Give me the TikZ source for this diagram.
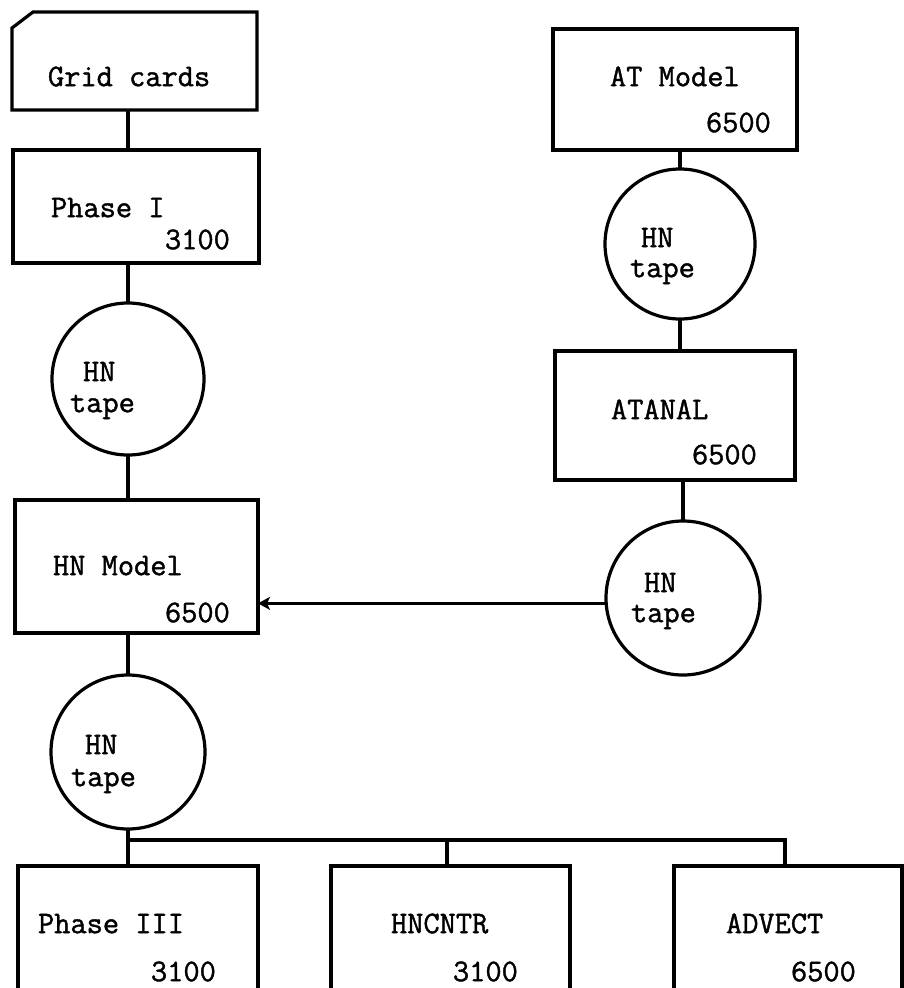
\documentclass[tikz,border=0pt]{standalone}
\usepackage{fontspec}
\setmonofont{Latin Modern Mono}[FakeBold=1.3]
\usetikzlibrary{arrows.meta}
\begin{document}
\begin{tikzpicture}[x=1pt,y=-1pt,
  every node/.style={inner sep=0pt, outer sep=0pt},
  ln/.style={line width=3.2pt},
  box/.style={draw, line width=3.2pt, rectangle},
  tape/.style={draw, line width=3.2pt, circle},
  txt/.style={anchor=mid west, font=\ttfamily\bfseries\fontsize{31.5}{34}\selectfont},
  arr/.style={ln, -{Stealth[length=12pt,width=13pt,inset=3pt]}}
]
\useasboundingbox (0,0) rectangle (904,988);
\clip (0,0) rectangle (904,988);
\fill[white] (0,0) rectangle (904,988);

% boxes
\node[minimum width=245pt, minimum height=98pt] (grid) at (134.5,61) {};
\draw[ln, line join=miter] ([yshift=-16pt]grid.north west) -- ([xshift=21pt]grid.north west) -- (grid.north east) -- (grid.south east) -- (grid.south west) -- cycle;
\node[box, minimum width=246pt, minimum height=113pt] (phase1) at (136,206.5) {};
\node[box, minimum width=243pt, minimum height=133pt] (hnmodel) at (136.5,566.5) {};
\node[box, minimum width=244pt, minimum height=121pt] (atmodel) at (675,89.5) {};
\node[box, minimum width=240pt, minimum height=129pt] (atanal) at (675,415.5) {};
\node[box, minimum width=240pt, minimum height=129pt] (phase3) at (138,930.5) {};
\node[box, minimum width=239pt, minimum height=129pt] (hncntr) at (450.5,930.5) {};
\node[box, minimum width=228pt, minimum height=129pt] (advect) at (788,930.5) {};

% tapes
\node[tape, minimum size=152pt] (tape1) at (128,379) {};
\node[tape, minimum size=154pt] (tape2) at (128,752) {};
\node[tape, minimum size=150pt] (tape3) at (680,244) {};
\node[tape, minimum size=154pt] (tape4) at (683,598) {};

% connectors
\draw[ln] (tape1.north |- grid.south) -- (tape1.north |- phase1.north);
\draw[ln] (tape1.north |- phase1.south) -- (tape1.north);
\draw[ln] (tape1.south) -- (tape1.south |- hnmodel.north);
\draw[ln] (tape2.north |- hnmodel.south) -- (tape2.north);
\draw[ln] (tape2.south) -- (tape2.south |- phase3.north);
\coordinate (bus) at (128,840);
\coordinate (busA) at (447,840);
\coordinate (busB) at (785,840);
\draw[ln] (bus) -- (busB) -- (busB |- advect.north);
\draw[ln] (busA) -- (busA |- hncntr.north);
\draw[ln] (tape3.north |- atmodel.south) -- (tape3.north);
\draw[ln] (tape3.south) -- (tape3.south |- atanal.north);
\draw[ln] (tape4.north |- atanal.south) -- (tape4.north);
\draw[arr] (tape4.184) -- (tape4.184 -| hnmodel.east);

% texts
\node[txt] (tgrid) at (48,84) {Grid cards};
\node[txt] (tp1) at (51,215) {Phase I};
\node[txt] (np1) at (165,247) {3100};
\node[txt] (h1) at (83,379) {HN};
\node[txt] (t1) at (70,410) {tape};
\node[txt] (thn) at (53,573) {HN Model};
\node[txt] (nhn) at (165,620) {6500};
\node[txt] (h2) at (85,752) {HN};
\node[txt] (t2) at (71,784) {tape};
\node[txt] (tp3) at (38,931) {Phase III};
\node[txt] (np3) at (151,979) {3100};
\node[txt] (thc) at (391,931) {HNCNTR};
\node[txt] (nhc) at (453,979) {3100};
\node[txt] (tad) at (726,931) {ADVECT};
\node[txt] (nad) at (791,979) {6500};
\node[txt] (tat) at (610,84) {AT Model};
\node[txt] (nat) at (706,130) {6500};
\node[txt] (h3) at (641,245) {HN};
\node[txt] (t3) at (630,275) {tape};
\node[txt] (tan) at (611,417) {ATANAL};
\node[txt] (nan) at (692,462) {6500};
\node[txt] (h4) at (644,590) {HN};
\node[txt] (t4) at (631,620) {tape};
\end{tikzpicture}
\end{document}
